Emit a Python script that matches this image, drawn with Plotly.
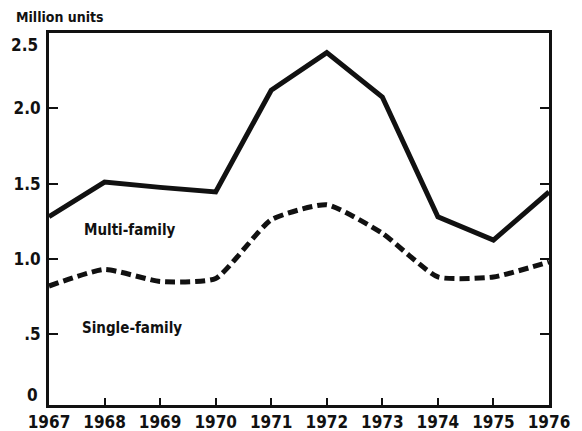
import plotly.graph_objects as go

years = [1967, 1968, 1969, 1970, 1971, 1972, 1973, 1974, 1975, 1976]
multi_family = [1.28, 1.51, 1.475, 1.445, 2.12, 2.37, 2.075, 1.28, 1.125, 1.445]
single_family = [0.82, 0.93, 0.85, 0.87, 1.26, 1.36, 1.17, 0.88, 0.88, 0.98]

y_tickvals = [0.5, 1.0, 1.5, 2.0]
y_ticktext = [".5", "1.0", "1.5", "2.0"]
x_ticktext = [str(y) for y in years]

FONT = "DejaVu Sans Condensed, Liberation Sans Narrow, Arial Narrow, sans-serif"
INK = "#111111"

fig = go.Figure()
fig.add_trace(go.Scatter(x=years, y=multi_family, mode="lines", name="Multi-family",
                         line=dict(color=INK, width=5), showlegend=False))
fig.add_trace(go.Scatter(x=years, y=single_family, mode="lines", name="Single-family",
                         line=dict(color=INK, width=5, dash="10px,5px", shape="spline", smoothing=0.5),
                         showlegend=False))

fig.update_layout(
    width=582, height=431,
    margin=dict(l=49, r=33, t=33, b=26),
    paper_bgcolor="white", plot_bgcolor="white",
    font=dict(family=FONT, color=INK, size=16, weight="bold"),
    xaxis=dict(range=[1967, 1976], tickvals=years, ticktext=x_ticktext,
               ticks="inside", ticklen=7, tickwidth=2, tickcolor=INK,
               showline=True, linewidth=3, linecolor=INK, mirror=True,
               showgrid=False, zeroline=False, automargin=False,
               tickfont=dict(family=FONT, size=17, weight="bold")),
    yaxis=dict(range=[0.03, 2.5], tickvals=y_tickvals, ticktext=y_ticktext,
               ticks="inside", ticklen=9, tickwidth=2, tickcolor=INK,
               showline=True, linewidth=3, linecolor=INK, mirror="ticks",
               showgrid=False, zeroline=False, ticklabelstandoff=2, automargin=False,
               tickfont=dict(family=FONT, size=17, weight="bold")),
    annotations=[
        dict(text="Million units", xref="paper", yref="paper", x=-0.07, y=1.0, yshift=16,
             xanchor="left", yanchor="middle", showarrow=False,
             font=dict(family=FONT, size=14, weight="bold")),
        dict(text="2.5", xref="paper", yref="y", x=0, y=2.5, xshift=-9, yshift=-12,
             xanchor="right", yanchor="middle", showarrow=False,
             font=dict(family=FONT, size=17, weight="bold")),
        dict(text="0", xref="paper", yref="y", x=0, y=0.03, xshift=-9, yshift=10,
             xanchor="right", yanchor="middle", showarrow=False,
             font=dict(family=FONT, size=17, weight="bold")),
        dict(text="Multi-family", xref="x", yref="y", x=1968.45, y=1.19,
             showarrow=False, xanchor="center", yanchor="middle",
             font=dict(family=FONT, size=15, weight="bold")),
        dict(text="Single-family", xref="x", yref="y", x=1968.5, y=0.54,
             showarrow=False, xanchor="center", yanchor="middle",
             font=dict(family=FONT, size=15, weight="bold")),
    ],
)

fig.write_html(
    "out.html",
    config={"displayModeBar": False},
    post_script="document.body.style.margin='0';document.body.style.padding='0';document.body.style.overflow='hidden';",
)
